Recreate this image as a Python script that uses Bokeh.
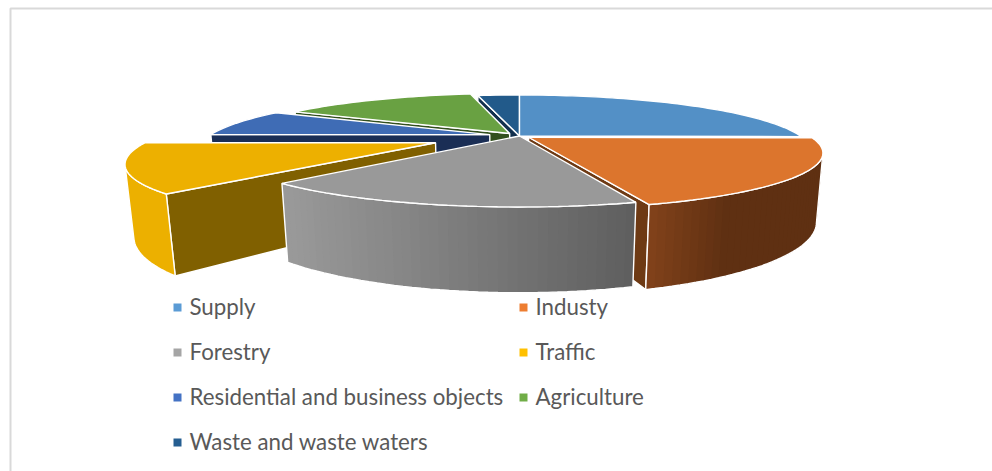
import math
from bokeh.plotting import figure
from bokeh.embed import file_html
from bokeh.resources import INLINE
from bokeh.core.properties import value
from bokeh.models import Range1d

# Shares of each source, percent, clockwise from twelve o'clock
categories = ["Supply", "Industy", "Forestry", "Traffic",
              "Residential and business objects", "Agriculture", "Waste and waste waters"]
shares = [25.2, 19.8, 16.9, 13.1, 8.0, 14.0, 3.0]

# Pull-out of each slice as a fraction of the radius
explode = [0.0, 0.04, 0.0, 0.315, 0.11, 0.06, 0.0]

top_colors = ["#5390C6", "#DC752D", "#999999", "#EDB000", "#3F6CB5", "#69A142", "#225A8A"]
wall_colors = ["#2E567A", "#6E3A14", "#5C5C5C", "#806000", "#1A2E55", "#33501E", "#12304E"]
rim_colors = ["#2E567A", None, None, "#ECB000", "#1A2E55", "#33501E", "#12304E"]
legend_colors = ["#5B9BD5", "#ED7D31", "#A5A5A5", "#FFC000", "#4472C4", "#70AD47", "#255E91"]

# Projection of the tilted disc
CX, CY = 519.0, 135.5
RADIUS, TILT, DEPTH = 281.0, 52.0, 66.0
PERSP, PERSP_Z = 0.267, 0.02


def project(dx, dy, z):
    w = 1.0 / (1.0 - PERSP * dy + PERSP_Z * z)
    return CX + RADIUS * dx * w, CY + (TILT * dy + DEPTH * z) * w


def lerp_hex(a, b, t):
    t = max(0.0, min(1.0, t))
    ca = [int(a[i:i + 2], 16) for i in (1, 3, 5)]
    cb = [int(b[i:i + 2], 16) for i in (1, 3, 5)]
    return "#%02x%02x%02x" % tuple(round(u + (v - u) * t) for u, v in zip(ca, cb))


def rim_shade(idx, x):
    if idx == 2:
        return lerp_hex("#999999", "#5E5E5E", (x - 285) / (632 - 285))
    if idx == 1:
        return lerp_hex("#80411A", "#5F3012", (x - 648) / 75)
    return rim_colors[idx]


p = figure(width=992, height=471, output_backend="svg", toolbar_location=None,
           x_range=Range1d(0, 992), y_range=Range1d(471, 0), min_border=0,
           outline_line_color=None, background_fill_color="white", border_fill_color="white")
p.axis.visible = False
p.grid.visible = False

# Chart frame: only the top and left edges fall inside the page
frame_x = [10, 10, 992]
frame_y = [471, 8, 8]
p.line(frame_x, frame_y, line_color="#D9D9D9", line_width=2)

total = sum(shares)
bounds = [0.0]
for s in shares:
    bounds.append(bounds[-1] + s / total * 360.0)

slices = []
for i, s in enumerate(shares):
    a0, a1 = bounds[i], bounds[i + 1]
    mid = math.radians((a0 + a1) / 2)
    ox, oy = explode[i] * math.sin(mid), -explode[i] * math.cos(mid)
    n = max(4, int((a1 - a0) / 1.5))
    angles = [a0 + (a1 - a0) * k / n for k in range(n + 1)]
    rim = [(ox + math.sin(math.radians(a)), oy - math.cos(math.radians(a))) for a in angles]
    slices.append(dict(i=i, origin=(ox, oy), rim=rim))


def wall(sl, end, color):
    ox, oy = sl["origin"]
    ex, ey = sl["rim"][end]
    pts = [project(ox, oy, 0), project(ex, ey, 0), project(ex, ey, 1), project(ox, oy, 1)]
    xs, ys = zip(*pts)
    p.patch(list(xs), list(ys), fill_color=color, line_color="white", line_width=1.4)


def outer_side(sl, clip=None):
    """Outer rim, trimmed at the silhouette where it turns away from the viewer."""
    i = sl["i"]
    rim = sl["rim"]
    px = [project(x, y, 0)[0] for x, y in rim]
    if clip == "right":
        rim = rim[px.index(max(px)):]
    elif clip == "left":
        rim = rim[:px.index(min(px)) + 1]
    ordered = sorted(rim, key=lambda q: project(q[0], q[1], 0)[0])
    # Each quad reaches over the next one so that no seam opens between shades
    for k in range(len(ordered) - 1):
        (ax, ay), (bx, by) = ordered[k], ordered[min(k + 2, len(ordered) - 1)]
        quad = [project(ax, ay, 0), project(bx, by, 0), project(bx, by, 1), project(ax, ay, 1)]
        xs, ys = zip(*quad)
        mid_x = project(*ordered[k], 0)[0]
        p.patch(list(xs), list(ys), fill_color=rim_shade(i, mid_x), line_color=None)
    top = [project(x, y, 0) for x, y in rim]
    bottom = [project(x, y, 1) for x, y in rim]
    outline = top + bottom[::-1] + [top[0]]
    xs, ys = zip(*outline)
    p.line(list(xs), list(ys), line_color="white", line_width=1.4)


def top_face(sl):
    ox, oy = sl["origin"]
    pts = [project(ox, oy, 0)] + [project(x, y, 0) for x, y in sl["rim"]]
    xs, ys = zip(*pts)
    p.patch(list(xs), list(ys), fill_color=top_colors[sl["i"]], line_color="white", line_width=1.4)


# Back to front: far slices first so the nearer ones overlap them
wall(slices[6], 0, wall_colors[6])
top_face(slices[6])
top_face(slices[0])
wall(slices[5], 0, wall_colors[5])
top_face(slices[5])
wall(slices[4], 0, wall_colors[4])
top_face(slices[4])
wall(slices[3], 0, wall_colors[3])
outer_side(slices[3], clip="left")
top_face(slices[3])
wall(slices[1], -1, wall_colors[1])
outer_side(slices[1], clip="right")
top_face(slices[1])
outer_side(slices[2])
top_face(slices[2])

# Legend in two columns
legend_x = [177, 523, 177, 523, 177, 523, 177]
legend_y = [307, 307, 352, 352, 397, 397, 442]
p.rect(legend_x, legend_y, width=8, height=8, fill_color=legend_colors, line_color=None)
p.text([x + 12 for x in legend_x], legend_y, text=categories, text_color="#595959",
       text_font=value("Lato"), text_font_size="22.3px", text_baseline="middle", text_align="left",
       y_offset=-1.5)

open("out.html", "w").write(file_html(p, INLINE))
